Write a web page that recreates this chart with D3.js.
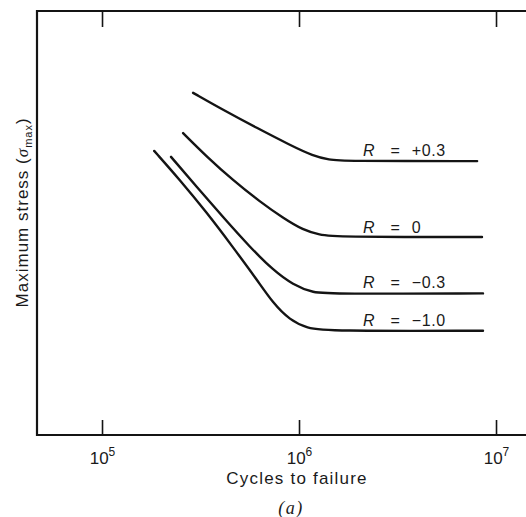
<!DOCTYPE html>
<html>
<head>
<meta charset="utf-8">
<script src="https://cdn.jsdelivr.net/npm/d3@7"></script>
<style>
  body { margin: 0; background: #fff; }
  svg { display: block; font-family: "Liberation Sans", Arial, sans-serif; }
</style>
</head>
<body>
<div id="chart"></div>
<script>
const width = 526, height = 517;

// S-N curves (stress in arbitrary units, axis has no values)
const ratios = ["+0.3", "0", "\u22120.3", "\u22121.0"];
const cycles = [
  [2.90e5, 4.11e5, 6.12e5, 8.99e5, 1.18e6, 1.44e6, 1.61e6, 8.02e6],
  [2.58e5, 3.41e5, 4.62e5, 6.34e5, 8.29e5, 1.05e6, 1.28e6, 1.49e6, 8.49e6],
  [2.24e5, 3.03e5, 4.11e5, 5.64e5, 7.38e5, 9.33e5, 1.18e6, 1.49e6, 8.59e6],
  [1.84e5, 2.49e5, 3.41e5, 4.62e5, 6.12e5, 7.38e5, 8.99e5, 1.10e6, 1.39e6, 8.59e6]
];
const stress = [
  [80.7, 76.7, 72.4, 68.4, 65.8, 64.9, 64.6, 64.6],
  [71.2, 65.6, 60.1, 55.0, 51.2, 48.3, 47.2, 46.7, 46.7],
  [65.6, 58.5, 51.4, 44.3, 38.9, 35.4, 33.5, 33.3, 33.4],
  [67.0, 60.1, 52.4, 44.3, 36.6, 31.1, 27.1, 25.2, 24.5, 24.6]
];
// label anchor (start of "R") for each curve
const labelCycles = [2.11e6, 2.11e6, 2.11e6, 2.11e6];
const labelStress = [65.8, 47.6, 34.7, 25.7];
const xTicks = [1e5, 1e6, 1e7];

const margin = { left: 37, top: 11, bottom: 82 };
const x = d3.scaleLog().domain([10 ** 4.67, 10 ** 7.2]).range([margin.left, margin.left + 197 * 2.53]);
const y = d3.scaleLinear().domain([0, 100]).range([height - margin.bottom, margin.top]);

const svg = d3.select("#chart").append("svg")
  .attr("width", width).attr("height", height)
  .attr("viewBox", [0, 0, width, height]);

const ink = "#141414";

// frame (left, top, bottom)
svg.append("path")
  .attr("fill", "none").attr("stroke", ink).attr("stroke-width", 2.2)
  .attr("d", `M${x.range()[1]},${y(100)}H${x.range()[0]}V${y(0)}H${x.range()[1]}`);

// bottom ticks + labels
const xAxis = svg.append("g")
  .attr("transform", `translate(0,${y(0)})`)
  .call(d3.axisBottom(x).tickValues(xTicks).tickSizeInner(-15).tickSizeOuter(0).tickPadding(17)
    .tickFormat(d => Math.round(Math.log10(d))));
xAxis.select(".domain").remove();
xAxis.selectAll(".tick line").attr("stroke", ink).attr("stroke-width", 1.6);
xAxis.selectAll(".tick text")
  .attr("fill", "#1a1a1a").attr("font-size", 17).attr("font-family", null)
  .attr("dy", "0.71em")
  .each(function (d) {
    const t = d3.select(this), e = t.text();
    t.text("");
    t.append("tspan").text("10");
    t.append("tspan").attr("font-size", 12).attr("dy", "-0.7em").text(e);
  });

// top ticks
const topAxis = svg.append("g")
  .attr("transform", `translate(0,${y(100)})`)
  .call(d3.axisTop(x).tickValues(xTicks).tickSizeInner(-16).tickSizeOuter(0).tickFormat(""));
topAxis.select(".domain").remove();
topAxis.selectAll(".tick line").attr("stroke", ink).attr("stroke-width", 1.6);

// curves
const line = d3.line()
  .x(d => x(d[0])).y(d => y(d[1]))
  .curve(d3.curveBasis);

svg.append("g").selectAll("path")
  .data(cycles.map((c, i) => c.map((n, j) => [n, stress[i][j]])))
  .join("path")
  .attr("fill", "none").attr("stroke", ink).attr("stroke-width", 2.4)
  .attr("stroke-linecap", "round")
  .attr("d", line);

// R labels
svg.append("g").selectAll("text")
  .data(ratios)
  .join("text")
  .attr("x", (d, i) => x(labelCycles[i]))
  .attr("y", (d, i) => y(labelStress[i]))
  .attr("fill", "#1a1a1a").attr("font-size", 16)
  .each(function (d) {
    const t = d3.select(this);
    t.append("tspan").attr("font-style", "italic").text("R");
    t.append("tspan").attr("dx", 16).text("=");
    t.append("tspan").attr("dx", 12).attr("letter-spacing", 0.6).text(d);
  });

// axis titles
svg.append("text")
  .attr("x", 297).attr("y", 484)
  .attr("text-anchor", "middle").attr("font-size", 17).attr("letter-spacing", 1.2)
  .attr("fill", "#1a1a1a")
  .text("Cycles to failure");

svg.append("text")
  .attr("x", 291).attr("y", 514)
  .attr("text-anchor", "middle").attr("font-size", 18)
  .attr("font-family", "'Liberation Serif', serif").attr("font-style", "italic")
  .attr("fill", "#1a1a1a")
  .attr("letter-spacing", 1.5)
  .text("(a)");

const yt = svg.append("text")
  .attr("transform", `translate(28,${y(52.5)}) rotate(-90)`)
  .attr("text-anchor", "middle").attr("font-size", 17).attr("letter-spacing", 1)
  .attr("fill", "#1a1a1a");
yt.append("tspan").text("Maximum stress (");
yt.append("tspan").attr("font-family", "'Liberation Serif', serif").attr("font-style", "italic").text("\u03c3");
yt.append("tspan").attr("font-size", 11).attr("dy", 4).text("max");
yt.append("tspan").attr("dy", -4).text(")");
</script>
</body>
</html>
